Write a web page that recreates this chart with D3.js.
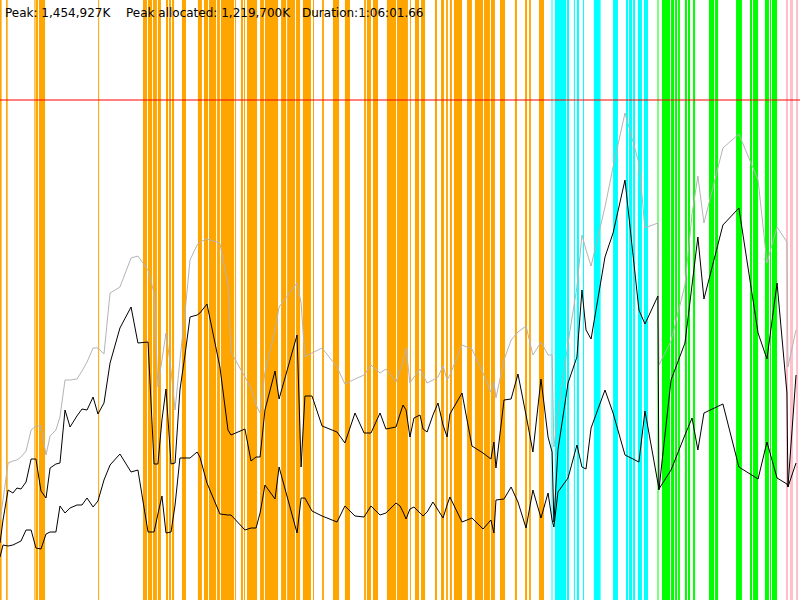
<!DOCTYPE html>
<html>
<head>
<meta charset="utf-8">
<script src="https://cdn.jsdelivr.net/npm/d3@7"></script>
<style>
  body { margin: 0; background: #fff; }
  svg { display: block; }
</style>
</head>
<body>
<div id="chart-area"></div>
<script>

// run summary
var peakK = 1454927;
var peakAllocatedK = 1219700;
var durationSec = 3961.66;   // 1:06:01.66

// phase spans, [start, end] in seconds
var orangeSpans = [[0,8],[30,38],[170,176],[178,188],[193,223],[486,491],[708,728],[733,753],[758,777],
	[782,797],[822,832],[837,847],[852,862],[901,921],[980,1000],[1010,1030],[1035,1070],[1075,1089],
	[1094,1159],[1164,1169],[1193,1203],[1208,1213],[1223,1273],[1288,1307],[1312,1377],[1392,1417],
	[1422,1461],[1466,1486],[1500,1540],[1550,1555],[1595,1604],[1649,1679],[1708,1733],[1803,1812],
	[1817,1837],[1847,1872],[1916,1961],[1966,2020],[2030,2035],[2055,2075],[2085,2105],[2154,2164],
	[2184,2199],[2209,2218],[2228,2238],[2248,2288],[2313,2337],[2352,2392],[2397,2426],[2431,2451],
	[2476,2501],[2550,2560],[2600,2610],[2620,2629],[2669,2694]];
var cyanSpans = [[2731,2736],[2748,2803],[2808,2818],[2842,2847],[2857,2867],[2887,2892],[2941,2971],
	[2972,2975],[3036,3060],[3100,3110],[3115,3130],[3135,3145],[3159,3179],[3189,3209]];
var greenSpans = [[3256,3261],[3278,3318],[3323,3338],[3343,3353],[3358,3367],[3392,3402],[3407,3417],
	[3432,3442],[3511,3536],[3541,3556],[3645,3674],[3714,3724],[3729,3754],[3788,3808],[3813,3818],
	[3823,3848]];
var pinkSpans = [[3892,3902],[3912,3927],[3942,3952]];

// samples, seconds
var sampleTimes = [0,15,40,64,84,104,129,154,178,203,
	228,248,277,297,322,347,381,406,431,461,
	485,515,545,594,649,683,733,763,782,802,
	822,847,867,891,916,941,976,990,1025,1089,
	1129,1144,1213,1243,1268,1288,1312,1362,1382,1471,
	1491,1510,1545,1595,1669,1708,1758,1803,1837,1882,
	1911,1961,1981,1996,2011,2030,2050,2080,2095,2115,
	2144,2169,2194,2214,2228,2288,2337,2392,2431,2446,
	2456,2496,2531,2565,2605,2639,2679,2714,2734,2743,
	2763,2813,2857,2882,2902,2927,2996,3036,3095,3164,
	3194,3258,3263,3323,3392,3427,3456,3486,3580,3659,
	3754,3798,3848,3897,3902,3942];

// memory as % of peak
var reservedPct = [16.0,20.0,27.4,27.8,28.0,28.6,29.8,34.0,34.8,34.8,
	29.0,32.8,34.0,36.6,44.0,44.0,44.2,45.8,47.6,50.4,
	50.4,49.2,61.4,62.6,68.4,68.8,66.0,61.4,42.6,48.0,
	53.4,46.0,38.0,48.0,57.4,68.0,71.0,71.6,72.2,71.4,
	63.0,49.6,44.6,42.4,39.0,37.4,45.6,54.0,58.6,63.4,
	59.4,48.6,49.4,50.4,46.6,43.2,44.2,45.0,47.0,45.4,
	46.2,43.6,46.0,47.6,50.4,43.4,44.6,46.2,45.0,43.4,
	44.0,44.6,46.8,44.0,45.0,51.0,50.2,45.4,41.6,43.6,
	40.4,48.0,52.0,53.6,54.8,49.0,51.6,49.0,49.0,30.6,
	37.0,51.4,62.6,73.0,70.0,66.8,78.6,86.6,97.4,87.4,
	74.4,75.4,47.0,51.8,63.0,77.2,84.8,75.4,90.4,93.2,
	84.0,67.4,74.6,71.6,46.6,54.0];

var allocatedPct = [11.4,16.0,22.0,21.4,22.4,22.2,23.6,28.2,28.2,21.8,
	20.4,26.4,27.2,27.4,38.0,34.6,36.8,38.2,38.0,40.6,
	37.2,39.4,47.4,54.4,58.6,51.4,51.6,27.2,27.2,36.0,
	42.2,27.2,27.4,42.0,49.0,56.6,57.0,57.4,59.2,46.6,
	34.0,33.0,34.2,27.8,28.6,28.6,38.0,45.8,40.2,53.0,
	26.6,40.8,40.8,34.8,33.6,31.4,37.4,33.4,33.4,37.4,
	34.2,34.6,37.2,39.0,38.0,32.6,36.4,37.0,34.2,33.6,
	37.0,39.4,35.0,32.6,37.2,41.4,30.8,29.4,28.2,31.6,
	26.4,40.0,40.2,45.2,37.0,29.6,44.2,32.6,29.6,15.6,
	30.0,43.4,48.6,62.0,54.0,52.2,68.6,73.4,84.0,58.0,
	55.2,60.8,22.0,44.0,51.4,63.0,72.6,60.2,75.0,78.4,
	53.4,48.2,63.4,41.4,22.6,45.0];

var livePct = [8.6,11.0,10.8,11.0,11.4,11.8,14.0,14.0,10.4,10.2,
	13.2,13.6,13.6,18.8,17.4,18.4,19.0,19.0,20.4,18.6,
	19.8,24.0,27.0,29.2,25.6,26.0,13.6,13.6,17.2,20.8,
	13.4,13.6,19.0,28.4,28.4,28.4,29.6,28.6,23.4,17.2,
	17.0,17.0,14.0,14.4,14.4,17.4,23.0,20.2,26.6,13.4,
	20.4,20.4,17.8,16.8,15.6,18.8,16.8,16.6,18.8,17.0,
	17.4,19.4,18.8,17.6,16.2,18.2,18.6,17.4,16.8,17.6,
	19.6,18.0,16.4,19.0,20.6,15.6,16.4,14.2,16.0,13.4,
	20.0,20.2,22.6,19.6,14.4,22.0,16.4,21.4,16.0,14.6,
	21.6,24.4,31.0,26.6,26.2,34.4,42.0,37.4,29.0,27.6,
	37.8,23.4,22.2,26.0,33.0,36.4,30.0,37.4,39.2,26.6,
	24.2,31.6,24.4,23.2,22.6,27.4];

var width = 800;
var height = 600;

var svg = d3.select("#chart-area")
	.append("svg")
		.attr("width", width)
		.attr("height", height);

var x = d3.scaleLinear().domain([0, durationSec]).range([0, width]);
var y = d3.scaleLinear().domain([0, 120]).range([height, 0]);

function drawSpans(spans, color){
	svg.append("g").selectAll("rect")
		.data(spans)
		.enter().append("rect")
			.attr("x", function(d){ return x(d[0]); })
			.attr("y", 0)
			.attr("width", function(d){ return x(d[1]) - x(d[0]); })
			.attr("height", height)
			.attr("fill", color);
}

drawSpans(orangeSpans, "#ffa500");
drawSpans(cyanSpans, "#00ffff");
drawSpans(greenSpans, "#00ff00");
drawSpans(pinkSpans, "#ffc0cb");

// peak marker
svg.append("line")
	.attr("x1", 0)
	.attr("x2", width)
	.attr("y1", y(100))
	.attr("y2", y(100))
	.attr("stroke", "#ff0000")
	.attr("stroke-width", 1);

function drawLine(values, color){
	var line = d3.line()
		.x(function(d, i){ return x(sampleTimes[i]); })
		.y(function(d){ return y(d); });
	svg.append("path")
		.datum(values)
		.attr("d", line)
		.attr("fill", "none")
		.attr("stroke", color)
		.attr("stroke-width", 1);
}

drawLine(reservedPct, "#b4b4b4");
drawLine(allocatedPct, "#000");
drawLine(livePct, "#000");

var fmt = d3.format(",");
var secs = durationSec % 60;
var header = [
	{x: 5, text: "Peak: " + fmt(peakK) + "K"},
	{x: 126, text: "Peak allocated: " + fmt(peakAllocatedK) + "K"},
	{x: 302, text: "Duration:" + Math.floor(durationSec / 3600) + ":" +
		d3.format("02")(Math.floor(durationSec / 60) % 60) + ":" + d3.format("05.2f")(secs)}
];

svg.selectAll("text.header")
	.data(header)
	.enter().append("text")
		.attr("class", "header")
		.attr("x", function(d){ return d.x; })
		.attr("y", 17)
		.attr("font-size", "12px")
		.attr("font-family", "DejaVu Sans")
		.attr("fill", "#000")
		.text(function(d){ return d.text; });

</script>
</body>
</html>
